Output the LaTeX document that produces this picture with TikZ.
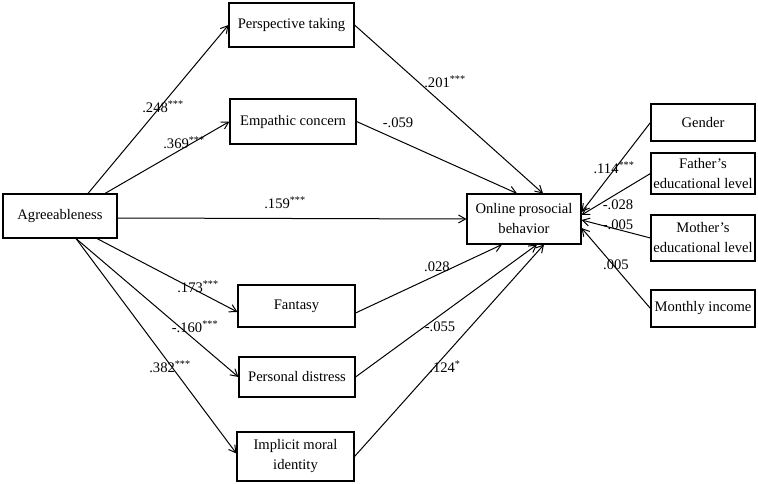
\documentclass[tikz,border=0pt]{standalone}
\usepackage{fontspec}
\setmainfont{Liberation Serif}
\usetikzlibrary{arrows.meta}
\begin{document}
\begin{tikzpicture}[x=1pt,y=-1pt,
  font=\fontsize{14.6}{20}\selectfont,
  box/.style={draw,line width=1.1pt,align=center,inner sep=1pt},
  arr/.style={line width=1pt,-{Straight Barb[length=7pt,width=8pt]}},
  coef/.style={inner sep=0pt}]
				\useasboundingbox (0,0) rectangle (758,484);
				\node[box,minimum width=114pt,minimum height=44pt] (agree) at (60,216) {Agreeableness};
				\node[box,minimum width=125pt,minimum height=44pt] (persp) at (291.5,25) {Perspective taking};
				\node[box,minimum width=126pt,minimum height=45pt] (emp) at (293,121.5) {Empathic concern};
				\node[box,minimum width=117pt,minimum height=42pt] (fant) at (296.5,306) {Fantasy};
				\node[box,minimum width=116pt,minimum height=40pt] (pd) at (297,377) {Personal distress};
				\node[box,minimum width=117pt,minimum height=49pt] (imi) at (295.5,456.5) {Implicit moral\\identity};
				\node[box,minimum width=114pt,minimum height=50pt] (online) at (524,219) {Online prosocial\\behavior};
				\node[box,minimum width=104pt,minimum height=37pt] (gender) at (703,122.5) {Gender};
				\node[box,minimum width=104pt,minimum height=41pt] (father) at (703,173.5) {Father's\\educational level};
				\node[box,minimum width=104pt,minimum height=46pt] (mother) at (703,238) {Mother's\\educational level};
				\node[box,minimum width=104pt,minimum height=37pt] (income) at (703,308.5) {Monthly income};
				\draw[arr] ([xshift=28pt]agree.north) -- (persp.west);
				\draw[arr] ([xshift=45pt]agree.north) -- (emp.west);
				\draw[arr] ([yshift=-2pt]agree.east) -- (online.west);
				\draw[arr] ([xshift=37pt]agree.south) -- ([yshift=-6pt]fant.west);
				\draw[arr] ([xshift=16pt]agree.south) -- (pd.west);
				\draw[arr] ([xshift=16pt]agree.south) -- ([yshift=3pt]imi.west);
				\draw[arr] (persp.east) -- ([xshift=19pt]online.north);
				\draw[arr] (emp.east) -- ([xshift=-7pt]online.north);
				\draw[arr] ([yshift=-7pt]fant.east) -- ([xshift=-22pt]online.south);
				\draw[arr] (pd.east) -- ([xshift=13pt]online.south);
				\draw[arr] (imi.east) -- ([xshift=20pt]online.south);
				\draw[arr] (gender.west) -- ([yshift=7pt]online.east);
				\draw[arr] (father.west) -- ([yshift=4pt]online.east);
				\draw[arr] (mother.west) -- ([yshift=-1pt]online.east);
				\draw[arr] (income.west) -- ([yshift=-9pt]online.east);
				\node[coef] (c248) at (163,107) {.248\textsuperscript{***}};
				\node[coef] (c369) at (184,143) {.369\textsuperscript{***}};
				\node[coef] (c159) at (285,203) {.159\textsuperscript{***}};
				\node[coef] (c201) at (445,82) {.201\textsuperscript{***}};
				\node[coef] (c059) at (398,123) {-.059};
				\node[coef] (c173) at (198,287) {.173\textsuperscript{***}};
				\node[coef] (c160) at (195,327) {-.160\textsuperscript{***}};
				\node[coef] (c382) at (170,367) {.382\textsuperscript{***}};
				\node[coef] (c028) at (437,267) {.028};
				\node[coef] (c055) at (440,327) {-.055};
				\node[coef] (c124) at (445,367) {.124\textsuperscript{*}};
				\node[coef] (c114) at (614,168) {.114\textsuperscript{***}};
				\node[coef] (cf028) at (618,205) {-.028};
				\node[coef] (cm005) at (618,225) {-.005};
				\node[coef] (ci005) at (616,265) {.005};
			\end{tikzpicture}
\end{document}
